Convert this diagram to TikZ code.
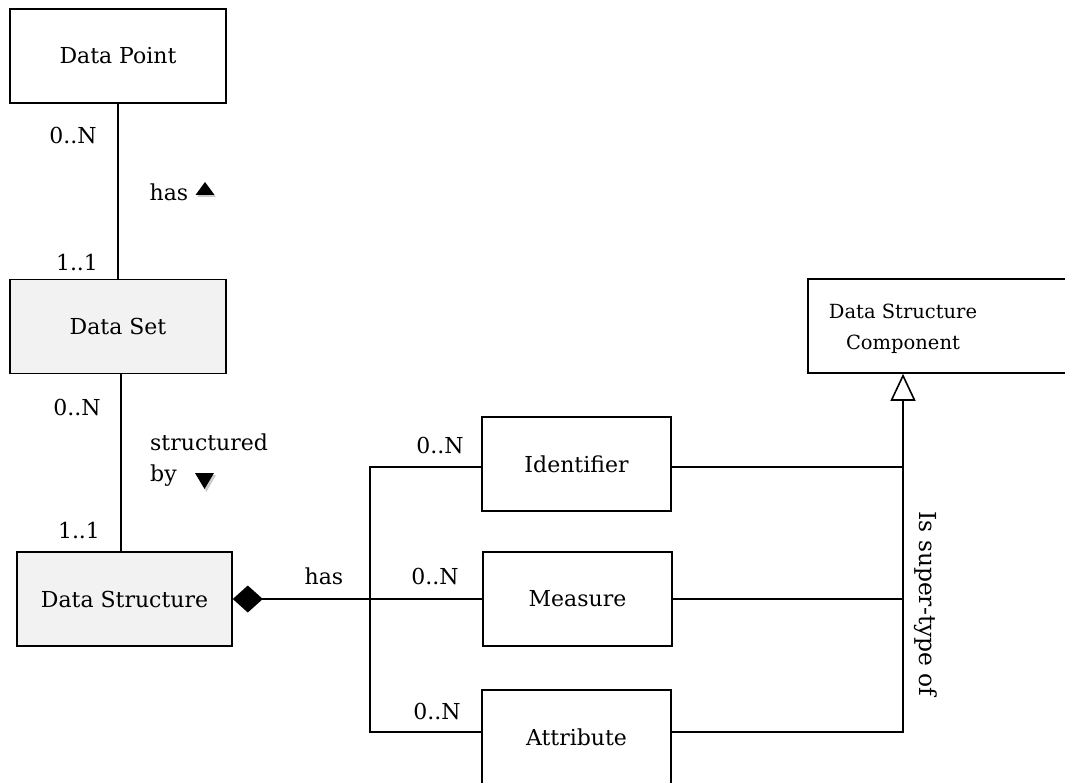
\documentclass[tikz,border=0pt]{standalone}
\usepackage{fontspec}
\setmainfont{DejaVu Serif}
\usetikzlibrary{arrows.meta,shapes.geometric}
\definecolor{boxgray}{RGB}{242,242,242}
\begin{document}
\begin{tikzpicture}[x=1pt,y=-1pt,
  every node/.style={font=\fontsize{22}{31}\selectfont, inner sep=0pt},
  box/.style={draw, line width=1.6pt, rectangle, minimum width=216pt, minimum height=94pt},
  sbox/.style={box, minimum width=189pt},
  gbox/.style={box, fill=boxgray},
  conn/.style={line width=1.6pt},
  dirtri/.style={fill=black, draw=none}]
\useasboundingbox (0,0) rectangle (1065,783);
% boxes
\node[box] (dp) at (118,56) {Data Point};
\node[gbox] (ds) at (118,326.5) {Data Set};
\node[gbox, minimum width=215pt] (dstr) at (124.5,599) {Data Structure};
\node[sbox] (ident) at (576.5,464) {Identifier};
\node[sbox] (meas) at (577.5,599) {Measure};
\node[sbox] (attr) at (576.5,737) {Attribute};
\node[box, minimum width=262pt] (dsc) at (939,326) {};
\node[align=center, font=\fontsize{19.5}{31}\selectfont] (dsctext) at (903,329) {Data Structure\\Component};
% associations
\draw[conn] (dp.south) -- (ds.north -| dp.south);
\coordinate (dsb) at (121,374);
\draw[conn] (dsb) -- (dstr.north -| dsb);
\draw[conn, {Diamond[width=27pt,length=30pt]}-] (dstr.east) -- (meas.west);
\coordinate (bus) at (370,599);
\draw[conn] ([yshift=-3pt]ident.west) -| (bus) |- ([yshift=5pt]attr.west);
% generalisation
\coordinate (gen) at (903,732);
\coordinate (gi) at (903,467);
\draw[conn] ([yshift=-3pt]ident.east) -- (gi);
\draw[conn] (meas.east) -- (meas.east -| gen);
\draw[conn, -{Triangle[open, fill=white, width=25pt, length=27pt]}] ([yshift=5pt]attr.east) -| (gen) -- (dsc.south -| gen);
% labels
\node (l1) at (73,135) {0..N};
\node (l2) at (169,192) {has};
\fill[gray!40] (197,197) -- (216,197) -- (206.5,184) -- cycle;
\fill[dirtri] (195.5,195) -- (214.5,195) -- (205,182) -- cycle;
\node (l3) at (77,262) {1..1};
\node (l4) at (77,407) {0..N};
\node[align=left, anchor=west] (l5) at (150,460) {structured\\by};
\fill[gray!40] (197,475) -- (216,475) -- (206.5,492) -- cycle;
\fill[dirtri] (195,473) -- (214,473) -- (204.5,489) -- cycle;
\node (l6) at (79,530) {1..1};
\node (l7) at (324,576) {has};
\node (l8) at (440,445) {0..N};
\node (l9) at (435,576) {0..N};
\node (l10) at (437,711) {0..N};
\node[rotate=-90, font=\fontsize{23.4}{31}\selectfont] (l11) at (926,604) {Is super-type of};
\end{tikzpicture}
\end{document}
